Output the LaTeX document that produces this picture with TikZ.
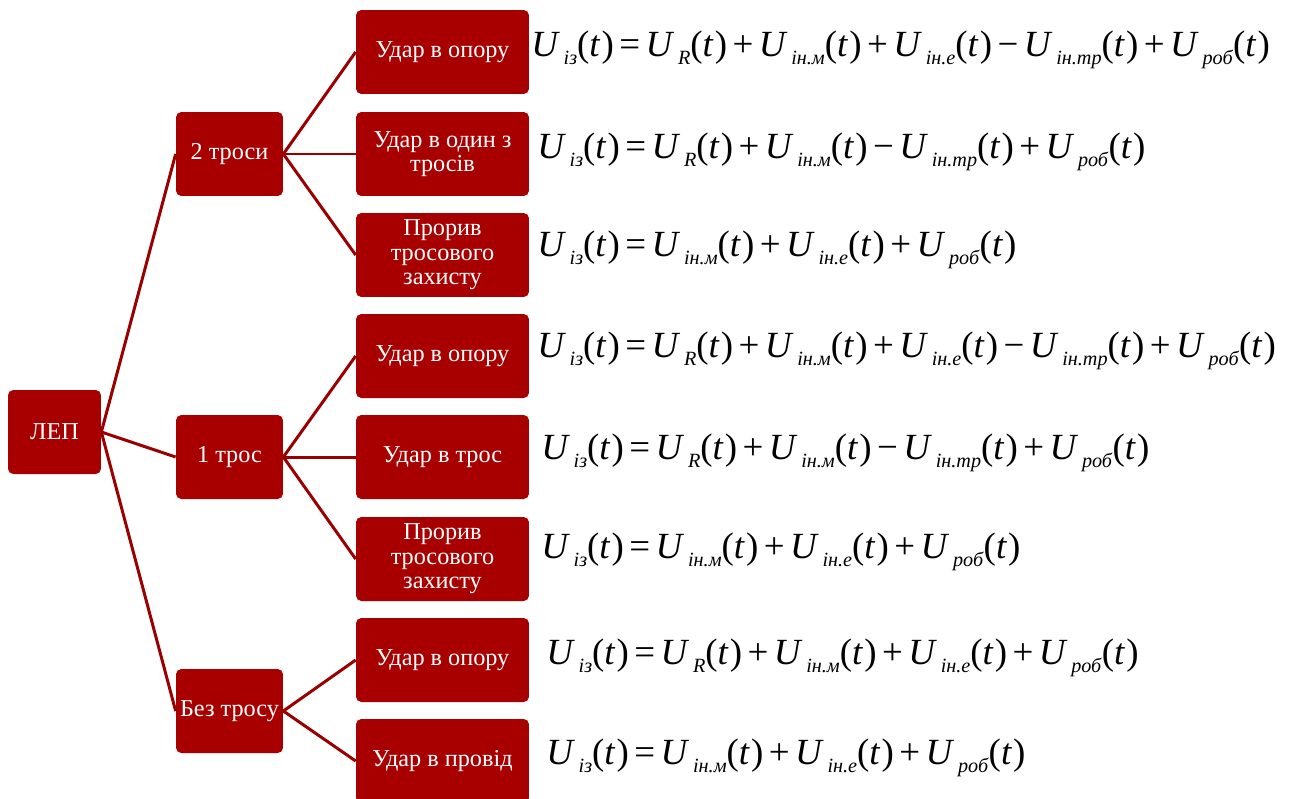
\documentclass[tikz,border=0pt]{standalone}
\usepackage{fontspec}
\setmainfont{Liberation Serif}
\usetikzlibrary{positioning}
\definecolor{boxred}{HTML}{A80000}
\definecolor{linkred}{HTML}{990000}
\newcommand{\Ux}[1]{\textit{U}\kern0.1em\raisebox{-0.22em}{\fontsize{11.5}{11.5}\selectfont\textit{#1}}}
\newcommand{\argt}{(\textit{t}\kern0.03em)}
\newcommand{\pl}{\kern0.15em+\kern0.15em}
\newcommand{\mi}{\kern0.15em−\kern0.15em}
\newcommand{\eq}{\kern0.15em=\kern0.15em}

\begin{document}
\begin{tikzpicture}[x=0.02cm,y=-0.02cm,
  box/.style={fill=boxred,rounded corners=3pt,text=white,align=center,
    minimum height=1.68cm,inner sep=1pt,font=\fontsize{13.8}{14}\selectfont},
  link/.style={draw=linkred,line width=1.7pt},
  formula/.style={anchor=west,inner sep=0pt,font=\fontsize{21}{22}\selectfont}]
  \useasboundingbox (0,0) rectangle (1290,798);
  % tree
  \node[box,minimum width=1.86cm] (lep) at (54.5,432) {ЛЕП};
  \node[box,minimum width=2.14cm] (two) at (229.5,154) {2 троси};
  \node[box,minimum width=2.14cm] (one) at (229.5,457) {1 трос};
  \node[box,minimum width=2.14cm] (none) at (229.5,711) {Без тросу};
  \node[box,minimum width=3.46cm] (a1) at (442.5,52) {Удар в опору};
  \node[box,minimum width=3.46cm] (a2) at (442.5,154) {Удар в один з\\тросів};
  \node[box,minimum width=3.46cm] (a3) at (442.5,255) {Прорив\\тросового\\захисту};
  \node[box,minimum width=3.46cm] (b1) at (442.5,356) {Удар в опору};
  \node[box,minimum width=3.46cm] (b2) at (442.5,457) {Удар в трос};
  \node[box,minimum width=3.46cm] (b3) at (442.5,559) {Прорив\\тросового\\захисту};
  \node[box,minimum width=3.46cm] (c1) at (442.5,660) {Удар в опору};
  \node[box,minimum width=3.46cm] (c2) at (442.5,761) {Удар в провід};
  \foreach \t in {two,one,none} \draw[link] (lep.east) -- (\t.west);
  \foreach \t in {a1,a2,a3} \draw[link] (two.east) -- (\t.west);
  \foreach \t in {b1,b2,b3} \draw[link] (one.east) -- (\t.west);
  \foreach \t in {c1,c2} \draw[link] (none.east) -- (\t.west);
  % formulas
  \node[formula] (fa1) at (531,50) {\Ux{із}\argt\eq\Ux{R}\argt\pl\Ux{ін.м}\argt\pl\Ux{ін.е}\argt\mi\Ux{ін.тр}\argt\pl\Ux{роб}\argt};
  \node[formula] (fa2) at (537,152) {\Ux{із}\argt\eq\Ux{R}\argt\pl\Ux{ін.м}\argt\mi\Ux{ін.тр}\argt\pl\Ux{роб}\argt};
  \node[formula] (fa3) at (537,250) {\Ux{із}\argt\eq\Ux{ін.м}\argt\pl\Ux{ін.е}\argt\pl\Ux{роб}\argt};
  \node[formula] (fb1) at (537,351) {\Ux{із}\argt\eq\Ux{R}\argt\pl\Ux{ін.м}\argt\pl\Ux{ін.е}\argt\mi\Ux{ін.тр}\argt\pl\Ux{роб}\argt};
  \node[formula] (fb2) at (541,453) {\Ux{із}\argt\eq\Ux{R}\argt\pl\Ux{ін.м}\argt\mi\Ux{ін.тр}\argt\pl\Ux{роб}\argt};
  \node[formula] (fb3) at (541,552) {\Ux{із}\argt\eq\Ux{ін.м}\argt\pl\Ux{ін.е}\argt\pl\Ux{роб}\argt};
  \node[formula] (fc1) at (546,658) {\Ux{із}\argt\eq\Ux{R}\argt\pl\Ux{ін.м}\argt\pl\Ux{ін.е}\argt\pl\Ux{роб}\argt};
  \node[formula] (fc2) at (546,758) {\Ux{із}\argt\eq\Ux{ін.м}\argt\pl\Ux{ін.е}\argt\pl\Ux{роб}\argt};
\end{tikzpicture}
\end{document}
